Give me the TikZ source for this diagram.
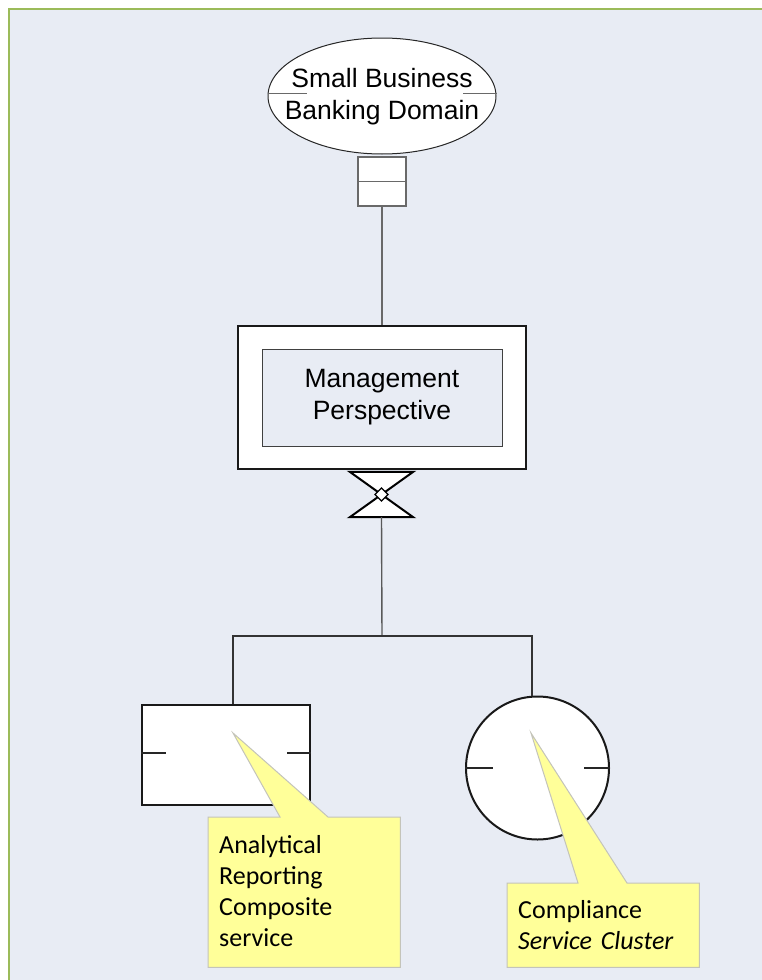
\documentclass[tikz,border=0pt]{standalone}
\usepackage{fontspec}
\setmainfont{Liberation Sans}
\newfontfamily\notefont{Carlito}
\usetikzlibrary{shapes.geometric,calc}

\definecolor{pagebg}{RGB}{232,236,244}
\definecolor{framegreen}{RGB}{155,187,89}
\definecolor{notefill}{RGB}{255,255,153}
\definecolor{noteedge}{RGB}{196,196,186}
\definecolor{inkgray}{RGB}{105,105,105}

\tikzset{
  shapeink/.style={draw=black!90, line width=2pt, fill=white, inner sep=0pt},
  thinink/.style={draw=black!85, line width=1pt},
  link/.style={draw=black!80, line width=1.1pt},
  stub/.style={draw=black!85, line width=1.5pt},
  labelfont/.style={font=\fontsize{26.5}{32}\selectfont, align=center, inner sep=0pt},
  notebox/.style={fill=notefill, draw=noteedge, line width=1pt, line join=miter},
  notetext/.style={font=\notefont\fontsize{26}{31}\selectfont, align=left,
                   inner sep=0pt, anchor=base west, text width=180pt}
}

\begin{document}
\begin{tikzpicture}[x=1pt,y=-1pt]
  \useasboundingbox (0,0) rectangle (762,980);
  % canvas with green frame on the top and left
  \fill[pagebg] (9,9) rectangle (762,980);
  \draw[framegreen, line width=2.5pt] (9,980) -- (9,9) -- (762,9);

  % business domain
  \node[ellipse, thinink, fill=white, minimum width=228pt, minimum height=116pt,
        inner sep=0pt] (domain) at (382,96) {};
  \node[labelfont] (domainlabel) at (382,97) {Small Business\\Banking Domain};
  \draw[thinink, draw=inkgray] ([yshift=3pt]domain.west) -- ++(39,0);
  \draw[thinink, draw=inkgray] ([yshift=3pt]domain.east) -- ++(-34,0);

  % two-part card below the domain
  \node[draw=inkgray, line width=1.5pt, fill=white, minimum width=48pt,
        minimum height=49pt, inner sep=0pt] (card) at (382,181.5) {};
  \draw[draw=inkgray, line width=1.5pt] (card.west) -- (card.east);

  % management perspective
  \node[draw=black!90, line width=1.3pt, fill=white, minimum width=288pt,
        minimum height=143pt, inner sep=0pt] (mgmt) at (382,397.5) {};
  \node[draw=black!75, line width=1pt, fill=pagebg, minimum width=240pt,
        minimum height=97pt, labelfont] (mgmtin) at (382,397.5) {Management\\Perspective};

  \draw[link, draw=inkgray] (card.south) -- (mgmt.north);

  % bow-tie junction symbol
  \node[minimum width=63pt, minimum height=45pt, inner sep=0pt] (bow) at (381.5,494.5) {};
  \filldraw[fill=white, draw=black, line width=2pt, line join=miter]
    (bow.north west) -- (bow.north east) -- (bow.south west) -- (bow.south east) -- cycle;
  \filldraw[fill=white, draw=black, line width=1.3pt]
    ([yshift=6.5pt]bow.center) -- ([xshift=6.5pt]bow.center) --
    ([yshift=-6.5pt]bow.center) -- ([xshift=-6.5pt]bow.center) -- cycle;

  % children
  \node[shapeink, minimum width=168pt, minimum height=100pt] (rect) at (226,755) {};
  \draw[stub] ([yshift=2pt]rect.west) -- ++(25,0);
  \draw[stub] ([yshift=2pt]rect.east) -- ++(-24,0);

  \node[circle, shapeink, minimum size=143pt] (circ) at (537.5,768) {};
  \draw[stub] (circ.west) -- ++(28,0);
  \draw[stub] (circ.east) -- ++(-26,0);

  % tree connectors
  \coordinate (junc) at (382,636);
  \draw[link, draw=black!65, line width=1.4pt] (bow.south) -- (junc);
  \draw[link] (junc) -| ([xshift=7pt]rect.north);
  \draw[link] (junc) -| ([xshift=-5.5pt]circ.north);

  % callout: analytical reporting
  \node[minimum width=192pt, minimum height=150pt, inner sep=0pt, anchor=north west]
        (noteA) at (208,817) {};
  \coordinate (tipA) at (233,733);
  \filldraw[notebox] (noteA.north west) -- ([xshift=72pt]noteA.north west) -- (tipA)
    -- ([xshift=120pt]noteA.north west) -- (noteA.north east) -- (noteA.south east)
    -- (noteA.south west) -- cycle;
  \node[notetext] (textA) at (219,853) {Analytical\\Reporting\\Composite\\service};

  % callout: compliance
  \node[minimum width=192pt, minimum height=84pt, inner sep=0pt, anchor=north west]
        (noteB) at (507,883) {};
  \coordinate (tipB) at (531,733);
  \filldraw[notebox] (noteB.north west) -- ([xshift=71pt]noteB.north west) -- (tipB)
    -- ([xshift=120pt]noteB.north west) -- (noteB.north east) -- (noteB.south east)
    -- (noteB.south west) -- cycle;
  \node[notetext] (textB) at (518,918) {Compliance\\\textit{Service Cluster}};
\end{tikzpicture}
\end{document}
